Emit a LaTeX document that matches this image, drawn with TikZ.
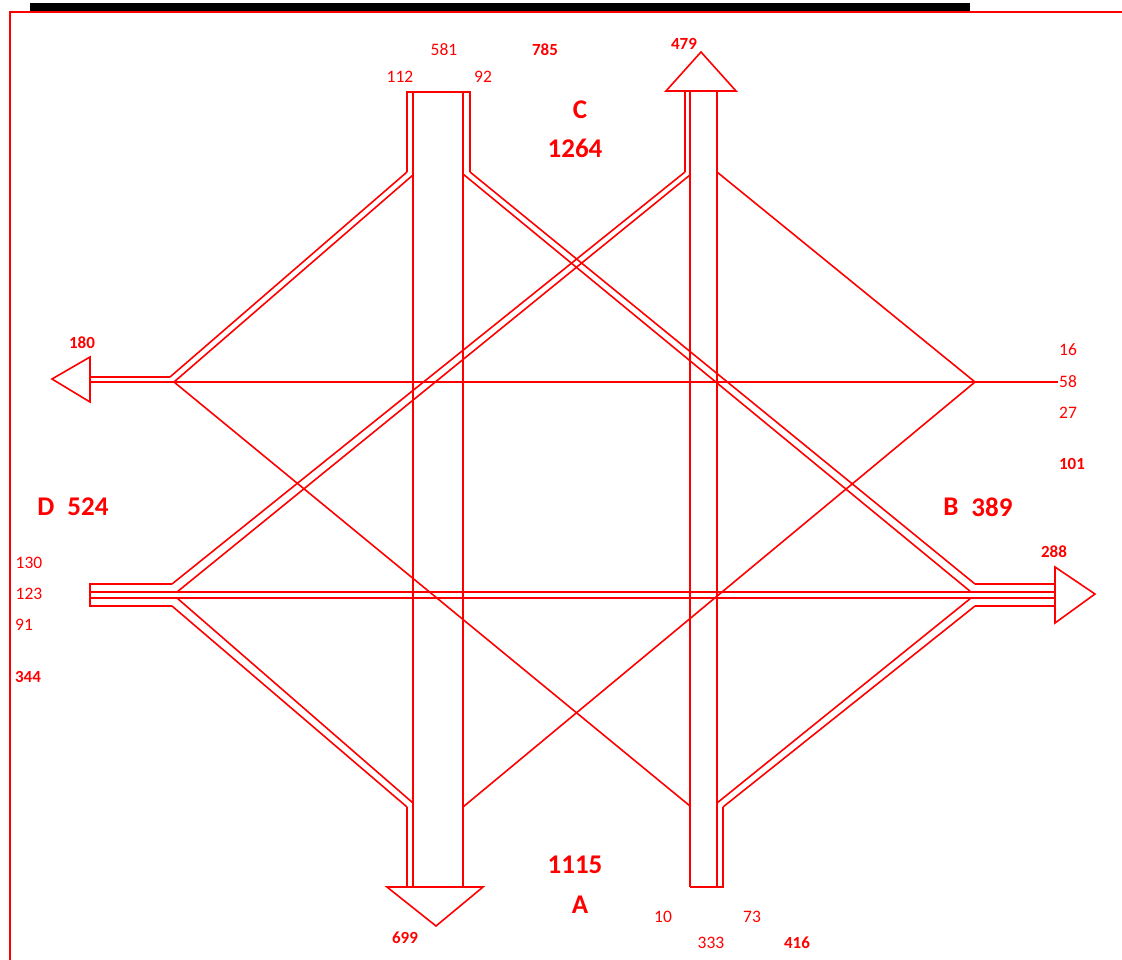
\documentclass[tikz,border=0pt]{standalone}
\usepackage{fontspec}
\setmainfont{Carlito}
\begin{document}
\begin{tikzpicture}[x=1pt,y=-1pt,
  ln/.style={draw=red,line width=1.6pt},
  lbl/.style={text=red,inner sep=0pt,font=\fontsize{17.5}{20}\selectfont},
  lblb/.style={text=red,inner sep=0pt,font=\fontsize{17}{20}\selectfont\bfseries},
  big/.style={text=red,inner sep=0pt,font=\fontsize{27}{30}\selectfont\bfseries}]
\useasboundingbox (0,0) rectangle (1122,960);
% frame and bar
\fill[black] (30,3) rectangle (970,12);
\draw[red,line width=1.6pt] (10,960) -- (10,12) -- (1122,12);
% ---- coordinates
% left column
\coordinate (lcA) at (407,92); \coordinate (lcB) at (413,92);
\coordinate (lcC) at (463,92); \coordinate (lcD) at (470,92);
\coordinate (lcAb) at (407,172); \coordinate (lcBb) at (413,175);
\coordinate (lcCb) at (463,174); \coordinate (lcDb) at (470,172);
\coordinate (lcB2) at (413,887); \coordinate (lcC2) at (463,887);
\coordinate (lcA3) at (407,887); \coordinate (lcAt) at (407,807);
\coordinate (lcBt) at (413,803); \coordinate (lcCt) at (463,807);
\coordinate (daL) at (387,887); \coordinate (daR) at (483,887); \coordinate (daT) at (436,926);
% right column
\coordinate (rcA) at (685,92); \coordinate (rcB) at (690,92); \coordinate (rcC) at (717,92);
\coordinate (rcAb) at (685,172); \coordinate (rcBb) at (690,175); \coordinate (rcCb) at (717,172);
\coordinate (rcB2) at (690,887); \coordinate (rcC2) at (717,887); \coordinate (rcD2) at (723,887);
\coordinate (rcDt) at (723,807); \coordinate (rcCt) at (717,803); \coordinate (rcBt) at (690,806);
\coordinate (uaL) at (666,91); \coordinate (uaR) at (736,91); \coordinate (uaT) at (701,52);
% top horizontal
\coordinate (thA) at (90,377); \coordinate (thB) at (90,382);
\coordinate (jlA) at (170,377); \coordinate (jlB) at (174,382);
\coordinate (jr) at (975,382); \coordinate (thE) at (1058,382);
\coordinate (laT) at (90,357); \coordinate (laB) at (90,402); \coordinate (laP) at (52,379);
% bottom band
\coordinate (bh1) at (90,584); \coordinate (bh2) at (90,592);
\coordinate (bh3) at (90,598); \coordinate (bh4) at (90,606);
\coordinate (bl1) at (172,584); \coordinate (bl2) at (177,592);
\coordinate (bl3) at (177,598); \coordinate (bl4) at (172,606);
\coordinate (br1) at (975,584); \coordinate (br2) at (971,592);
\coordinate (br3) at (971,598); \coordinate (br4) at (975,606);
\coordinate (be1) at (1055,584); \coordinate (be2) at (1055,592);
\coordinate (be3) at (1055,598); \coordinate (be4) at (1055,606);
\coordinate (raT) at (1055,567); \coordinate (raB) at (1055,623); \coordinate (raP) at (1095,594);
% ---- left column
\draw[ln] (lcAb) -- (lcA) -- (lcD) -- (lcDb);
\draw[ln] (lcB) -- (lcB2);
\draw[ln] (lcC) -- (lcC2);
\draw[ln] (lcAt) -- (lcA3);
\draw[ln] (daL) -- (daR) -- (daT) -- cycle;
% ---- right column
\draw[ln] (rcA) -- (rcAb);
\draw[ln] (rcB) -- (rcB2);
\draw[ln] (rcC) -- (rcC2);
\draw[ln] (rcDt) -- (rcD2) -- (rcB2);
\draw[ln] (uaL) -- (uaR) -- (uaT) -- cycle;
% ---- top horizontal
\draw[ln] (thA) -- (jlA);
\draw[ln] (thB) -- (thE);
\draw[ln] (laT) -- (laB) -- (laP) -- cycle;
% ---- bottom band
\draw[ln] (bl1) -- (bh1) -- (bh4) -- (bl4);
\draw[ln] (bh2) -- (be2);
\draw[ln] (bh3) -- (be3);
\draw[ln] (br1) -- (be1);
\draw[ln] (br4) -- (be4);
\draw[ln] (raT) -- (raB) -- (raP) -- cycle;
% ---- double diagonals
\draw[ln] (lcAb) -- (jlA);
\draw[ln] (lcBb) -- (jlB);
\draw[ln] (lcDb) -- (br1);
\draw[ln] (lcCb) -- (br2);
\draw[ln] (rcAb) -- (bl1);
\draw[ln] (rcBb) -- (bl2);
\draw[ln] (bl4) -- (lcAt);
\draw[ln] (bl3) -- (lcBt);
\draw[ln] (br4) -- (rcDt);
\draw[ln] (br3) -- (rcCt);
% ---- single diagonals
\draw[ln] (jlB) -- (rcBt);
\draw[ln] (rcCb) -- (jr);
\draw[ln] (jr) -- (lcCt);
% ---- labels
\node[lbl] (t581) at (444,50) {581};
\node[lblb] (t785) at (545,50) {785};
\node[lbl] (t112) at (400,77) {112};
\node[lbl] (t92) at (483,77) {92};
\node[lblb] (t479) at (684,44) {479};
\node[big] (tC) at (580,110) {C};
\node[big] (t1264) at (575,148) {1264};
\node[lblb] (t180) at (82,343) {180};
\node[lbl] (t16) at (1068,350) {16};
\node[lbl] (t58) at (1068,382) {58};
\node[lbl] (t27) at (1068,413) {27};
\node[lblb] (t101) at (1072,464) {101};
\node[big] (tD) at (46,507) {D};
\node[big] (t524) at (88,507) {524};
\node[big] (tB) at (951,507) {B};
\node[big] (t389) at (992,507) {389};
\node[lblb] (t288) at (1054,552) {288};
\node[lbl] (t130) at (29,563) {130};
\node[lbl] (t123) at (29,594) {123};
\node[lbl] (t91) at (24,625) {91};
\node[lblb] (t344) at (28,677) {344};
\node[big] (t1115) at (575,865) {1115};
\node[big] (tA) at (580,905) {A};
\node[lblb] (t699) at (405,938) {699};
\node[lbl] (t10) at (663,917) {10};
\node[lbl] (t73) at (752,917) {73};
\node[lbl] (t333) at (711,943) {333};
\node[lblb] (t416) at (797,943) {416};
\end{tikzpicture}
\end{document}
